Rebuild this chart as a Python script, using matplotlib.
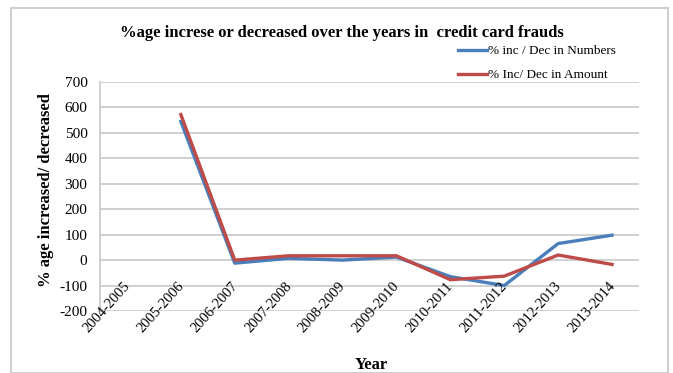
import numpy as np
import matplotlib
matplotlib.use("Agg")
import matplotlib.pyplot as plt
from matplotlib.patches import Rectangle

plt.rcParams['font.family'] = ['Liberation Serif', 'DejaVu Serif']

years = ["2004-2005", "2005-2006", "2006-2007", "2007-2008", "2008-2009",
         "2009-2010", "2010-2011", "2011-2012", "2012-2013", "2013-2014"]
pct_numbers = [np.nan, 545, -12, 7, 0, 12, -65, -100, 65, 98]
pct_amount = [np.nan, 572, 0, 17, 17, 17, -77, -63, 20, -17]
yticks = [-200, -100, 0, 100, 200, 300, 400, 500, 600, 700]

fig = plt.figure(figsize=(6.73, 3.73), dpi=100)
fig.patches.append(Rectangle((11/673, 0), (668-11)/673, 1 - 8/373, transform=fig.transFigure,
                             fill=False, edgecolor='#cfcfcf', linewidth=1.5))

ax = fig.add_axes([100/673, 1 - 311/373, 539/673, 229/373])
x = np.arange(len(years))
l1, = ax.plot(x, pct_numbers, color='#4a7ebb', linewidth=2.4, label='% inc / Dec in Numbers')
l2, = ax.plot(x, pct_amount, color='#be4b48', linewidth=2.4, label='% Inc/ Dec in Amount')

ax.set_xlim(-0.5, len(years) - 0.5)
ax.set_ylim(-200, 700)
ax.set_yticks(yticks)
ax.set_yticklabels([str(v) for v in yticks], fontsize=11)
ax.tick_params(axis='y', length=0, pad=9)
ax.yaxis.grid(True, color='#c8c8c8', linewidth=1.2)
ax.set_axisbelow(True)
for s in ['top', 'right', 'bottom']:
    ax.spines[s].set_visible(False)
ax.spines['left'].set_color('#c8c8c8')
ax.spines['left'].set_linewidth(1.2)

ax.set_xticks([])
for xi, lab in zip(x, years):
    ax.annotate(lab, xy=(xi, 0), xycoords='data', xytext=(-3, -14), textcoords='offset points',
                rotation=48, ha='right', va='top', rotation_mode='anchor', fontsize=10.5)

fig.text(371/673, 1 - 365/373, 'Year', ha='center', va='center', fontsize=12, fontweight='bold')
fig.text(46/673, 1 - 190/373, '% age increased/ decreased', ha='center', va='center',
         rotation=90, fontsize=12, fontweight='bold')
fig.text(342/673, 1 - 33/373, '%age increse or decreased over the years in  credit card frauds',
         ha='center', va='center', fontsize=12, fontweight='bold')

fig.legend(handles=[l1, l2], loc='upper left', bbox_to_anchor=(458/673, 1 - 45/373),
           frameon=False, fontsize=9.5, handlelength=2.2, handletextpad=0.1,
           labelspacing=0.9, borderaxespad=0, borderpad=0)

fig.savefig('out.png', dpi=100)
